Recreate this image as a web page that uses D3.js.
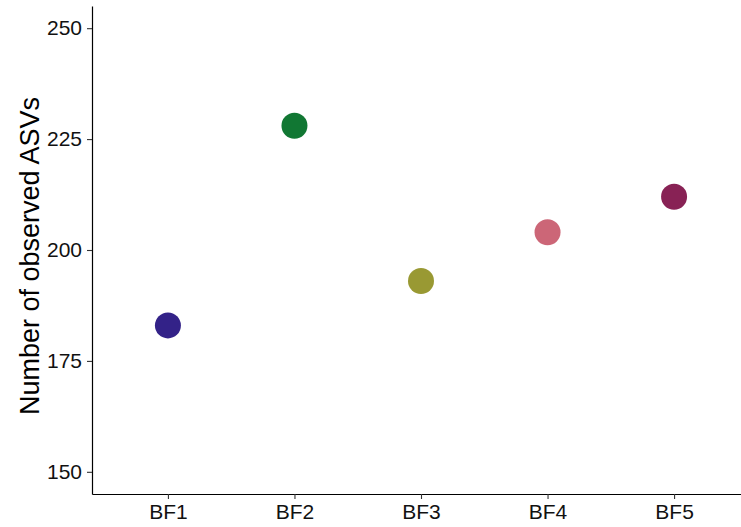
<!DOCTYPE html>
<html>
<head>
<meta charset="utf-8">
<script src="https://cdn.jsdelivr.net/npm/d3@7"></script>
<style>
  html, body { margin: 0; padding: 0; background: #fff; }
  svg { display: block; font-family: "Liberation Sans", Arial, Helvetica, sans-serif; }
</style>
</head>
<body>
<svg id="chart" width="741" height="527"></svg>
<script>
const categories = ["BF1", "BF2", "BF3", "BF4", "BF5"];
const values = [183, 228, 193, 204, 212];
const colors = ["#332288", "#117733", "#999933", "#CC6677", "#882255"];
const yTicks = [150, 175, 200, 225, 250];
const yTitle = "Number of observed ASVs";

(function () {
  const mLeft = 92, mTop = 6, mBottom = 494, mRight = 750;

  const svg = d3.select("#chart");

  const x = d3.scalePoint().domain(categories).range([mLeft, mRight]).padding(0.6);
  const y = d3.scaleLinear().domain([145, 255]).range([mBottom, mTop]);

  // points
  svg.append("g").selectAll("circle")
    .data(categories.map((c, i) => ({ c, v: values[i], col: colors[i] })))
    .join("circle")
    .attr("cx", d => x(d.c))
    .attr("cy", d => y(d.v))
    .attr("r", 13)
    .attr("fill", d => d.col);

  // y axis
  const yAxis = svg.append("g")
    .attr("transform", `translate(${mLeft},0)`)
    .call(d3.axisLeft(y).tickValues(yTicks).tickSize(5).tickPadding(5).tickSizeOuter(0));
  yAxis.select(".domain").attr("stroke", "#000").attr("stroke-width", 1.2);
  yAxis.selectAll(".tick line").attr("stroke", "#333").attr("stroke-width", 1.1);
  yAxis.selectAll(".tick text").attr("font-size", 21).attr("fill", "#111").attr("font-family", null);
  yAxis.attr("font-family", null).attr("font-size", null);

  // x axis
  const xAxis = svg.append("g")
    .attr("transform", `translate(0,${mBottom})`)
    .call(d3.axisBottom(x).tickSize(5).tickPadding(5).tickSizeOuter(0));
  xAxis.select(".domain").attr("stroke", "#000").attr("stroke-width", 1.2);
  xAxis.selectAll(".tick line").attr("stroke", "#333").attr("stroke-width", 1.1);
  xAxis.selectAll(".tick text").attr("font-size", 21).attr("fill", "#111");
  xAxis.attr("font-family", null).attr("font-size", null);

  // y title
  svg.append("text")
    .attr("transform", `translate(39,${(mTop + mBottom) / 2 + 6}) rotate(-90)`)
    .attr("text-anchor", "middle")
    .attr("font-size", 27)
    .attr("fill", "#000")
    .text(yTitle);
})();
</script>
</body>
</html>
